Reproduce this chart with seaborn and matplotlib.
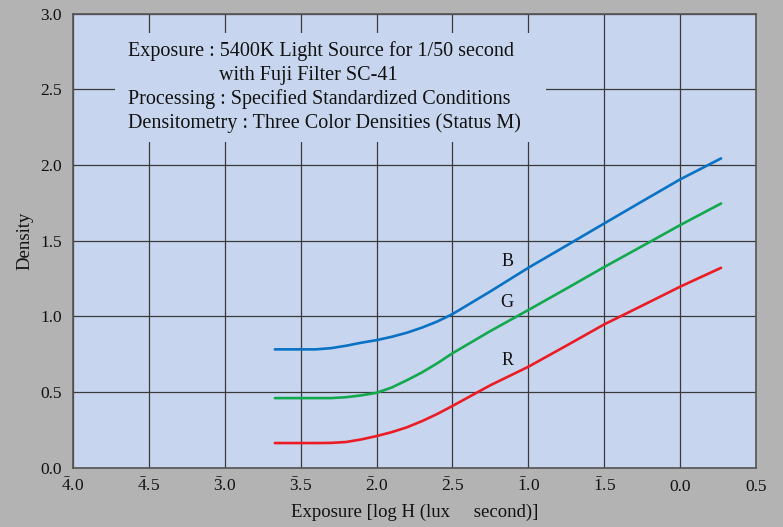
import numpy as np
import pandas as pd
import matplotlib
matplotlib.use("Agg")
import matplotlib.pyplot as plt
from matplotlib.patches import Rectangle
import seaborn as sns

# ---- data ----
log_h = [-2.67, -2.5, -2.4, -2.3, -2.2, -2.1, -2.0, -1.9, -1.8, -1.7, -1.6,
         -1.5, -1.25, -1.0, -0.75, -0.5, -0.25, 0.0, 0.27]
dens_b = [0.782, 0.782, 0.782, 0.790, 0.806, 0.826, 0.843, 0.865, 0.892, 0.926,
          0.966, 1.015, 1.165, 1.321, 1.467, 1.614, 1.760, 1.905, 2.044]
dens_g = [0.460, 0.460, 0.460, 0.460, 0.466, 0.478, 0.495, 0.530, 0.578, 0.630,
          0.690, 0.756, 0.903, 1.042, 1.183, 1.326, 1.464, 1.603, 1.746]
dens_r = [0.163, 0.163, 0.163, 0.164, 0.170, 0.187, 0.209, 0.235, 0.267, 0.308,
          0.355, 0.408, 0.545, 0.667, 0.806, 0.947, 1.071, 1.196, 1.321]
series_names = ["B", "G", "R"]
series_colors = ["#0a72c4", "#12a84e", "#ec1c24"]
label_pos_x = [-1.14, -1.14, -1.14]
label_pos_y = [1.36, 1.09, 0.71]

x_ticks = [-4.0, -3.5, -3.0, -2.5, -2.0, -1.5, -1.0, -0.5, 0.0, 0.5]
x_ticklabels = [r"$\mathdefault{\bar{4}}$.0", r"$\mathdefault{\bar{4}}$.5",
                r"$\mathdefault{\bar{3}}$.0", r"$\mathdefault{\bar{3}}$.5",
                r"$\mathdefault{\bar{2}}$.0", r"$\mathdefault{\bar{2}}$.5",
                r"$\mathdefault{\bar{1}}$.0", r"$\mathdefault{\bar{1}}$.5",
                "0.0", "0.5"]
y_ticks = [0.0, 0.5, 1.0, 1.5, 2.0, 2.5, 3.0]
y_ticklabels = ["0.0", "0.5", "1.0", "1.5", "2.0", "2.5", "3.0"]

note_lines = ["Exposure : 5400K Light Source for 1/50 second",
              "with Fuji Filter SC-41",
              "Processing : Specified Standardized Conditions",
              "Densitometry : Three Color Densities (Status M)"]
note_x = [0.0805, 0.2138, 0.0805, 0.0805]
note_y = [0.9068, 0.8540, 0.8009, 0.7480]

x_label = "Exposure [log H (lux     second)]"
y_label = "Density"

df = pd.DataFrame({
    "logH": log_h * 3,
    "density": dens_b + dens_g + dens_r,
    "layer": ["B"] * len(log_h) + ["G"] * len(log_h) + ["R"] * len(log_h),
})

# ---- style ----
sns.set_style("white")
serif = ["Liberation Serif", "DejaVu Serif"]
plt.rcParams["font.family"] = serif
plt.rcParams["mathtext.fontset"] = "custom"
plt.rcParams["mathtext.rm"] = "Liberation Serif"
plt.rcParams["mathtext.it"] = "Liberation Serif:italic"
plt.rcParams["mathtext.bf"] = "Liberation Serif:bold"

bg = "#b3b3b3"
face = "#c7d6ee"

fig = plt.figure(figsize=(7.83, 5.27), dpi=100, facecolor=bg)
ax = fig.add_axes([0.0932, 0.1125, 0.8723, 0.8615])
ax.set_facecolor(face)

sns.lineplot(data=df, x="logH", y="density", hue="layer",
             palette=dict(zip(series_names, series_colors)),
             linewidth=1.9, legend=False, ax=ax, zorder=3, sort=True)

ax.set_xlim(-4.0, 0.5)
ax.set_ylim(0.0, 3.0)
ax.set_xticks(x_ticks)
ax.set_xticklabels(x_ticklabels, fontsize=12.5, family=serif, color="#111111")
ax.set_yticks(y_ticks)
ax.set_yticklabels(y_ticklabels, fontsize=12.5, family=serif, color="#111111")
for lbl in ax.get_xticklabels():
    lbl.set_verticalalignment("baseline")
ax.tick_params(axis="x", length=0, pad=16.5)
ax.tick_params(axis="y", length=0, pad=8)

ax.grid(True, color="#3a3a3a", linewidth=0.9, zorder=1)
ax.set_axisbelow(True)
for s in ax.spines.values():
    s.set_color("#555555")
    s.set_linewidth(1.2)

ax.set_xlabel(x_label, fontsize=13.5, family=serif, color="#111111", labelpad=6.5)
ax.set_ylabel(y_label, fontsize=13.5, family=serif, color="#111111", labelpad=5)

# box behind the notes hiding the grid
ax.add_patch(Rectangle((0.0615, 0.7174), 0.631, 0.2401, transform=ax.transAxes,
                       facecolor=face, edgecolor="none", zorder=2))
for t, xx, yy in zip(note_lines, note_x, note_y):
    ax.text(xx, yy, t, transform=ax.transAxes, fontsize=14.5, family=serif,
            color="#111111", va="baseline", ha="left", zorder=4)

for n, xx, yy in zip(series_names, label_pos_x, label_pos_y):
    ax.text(xx, yy, n, fontsize=13, family=serif, color="#111111",
            ha="center", va="center", zorder=4)

fig.savefig("out.png", dpi=100, facecolor=bg)
